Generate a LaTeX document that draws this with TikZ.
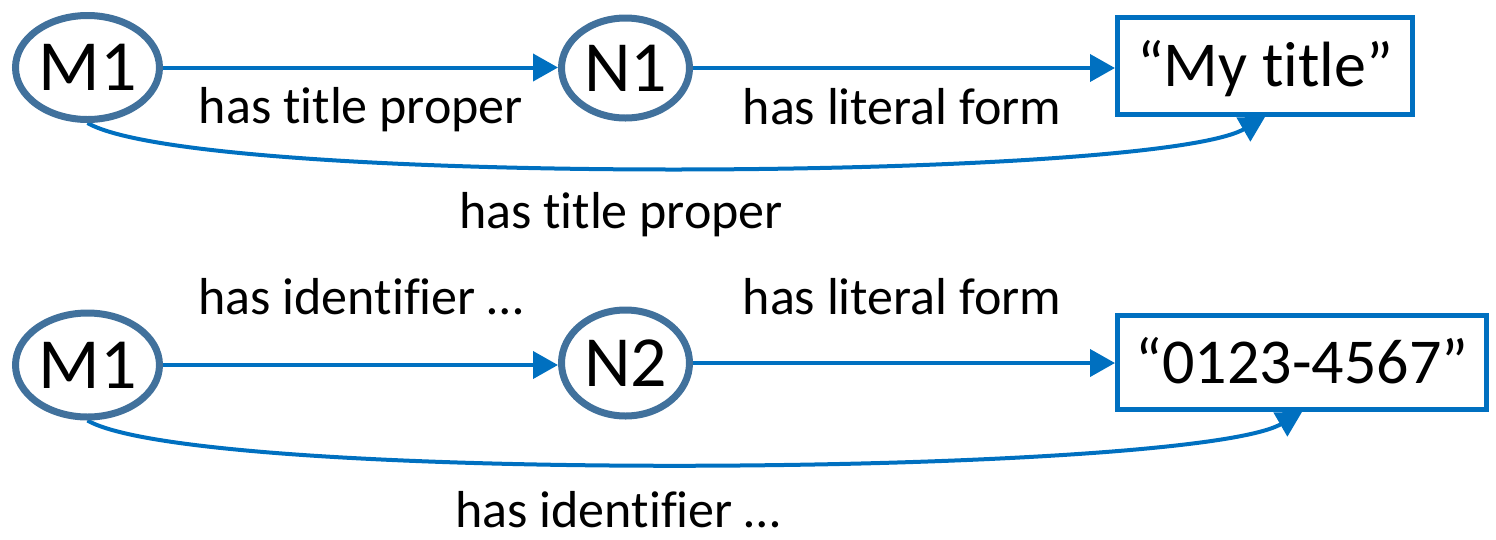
\documentclass[tikz,border=0pt]{standalone}
\usepackage{fontspec}
\setmainfont{Carlito}[Ligatures=NoCommon]
\usetikzlibrary{shapes.geometric,arrows.meta,backgrounds}
\definecolor{ellblue}{RGB}{65,113,156}
\definecolor{arrblue}{RGB}{0,112,192}
\begin{document}
\begin{tikzpicture}[x=1pt,y=-1pt,
  ent/.style={ellipse,draw=ellblue,line width=7pt,fill=white,inner sep=0pt,
    font=\fontsize{72}{86}\selectfont},
  lit/.style={rectangle,draw=arrblue,line width=5pt,fill=white,inner sep=0pt,
    text height=41pt,text depth=0pt,font=\fontsize{64}{78}\selectfont},
  rel/.style={anchor=base,inner sep=0pt,font=\fontsize{52}{62}\selectfont},
  conn/.style={draw=arrblue,line width=4pt,
    -{Triangle[length=25pt,width=27pt]},arrblue}]
\useasboundingbox (0,0) rectangle (1496,539);
% top row
\node[ent,minimum width=144pt,minimum height=104pt] (m1a) at (87.5,67.5) {M1};
\node[ent,minimum width=128pt,minimum height=100pt] (n1) at (625.5,68) {N1};
\node[lit,minimum width=295pt,minimum height=97pt] (t1) at (1265,66) {“My title”};
\node[rel] (l1) at (361,123) {has title proper};
\node[rel] (l2) at (902,124) {has literal form};
\node[rel] (l3) at (621,228) {has title proper};
% bottom row
\node[ent,minimum width=144pt,minimum height=104pt] (m1b) at (87.5,365) {M1};
\node[ent,minimum width=128pt,minimum height=106pt] (n2) at (625.5,363) {N2};
\node[lit,minimum width=369pt,minimum height=94pt] (t2) at (1302,362.5) {“0123-4567”};
\node[rel] (l4) at (361,314) {has identifier …};
\node[rel] (l5) at (902,314) {has literal form};
\node[rel] (l6) at (618,527) {has identifier …};
\begin{scope}[on background layer]
\draw[conn] (m1a.east) -- (m1a.east -| n1.west);
\draw[conn] (n1.east) -- (n1.east -| t1.west);
\draw[conn] (m1a.south) .. controls +(111,64) and +(-111,64) .. (t1.south);
\draw[conn] (m1b.east) -- (m1b.east -| n2.west);
\draw[conn] (n2.east) -- (n2.east -| t2.west);
\draw[conn] (m1b.south) .. controls +(111,64) and +(-111,64) .. (t2.south);
\end{scope}
\end{tikzpicture}
\end{document}
